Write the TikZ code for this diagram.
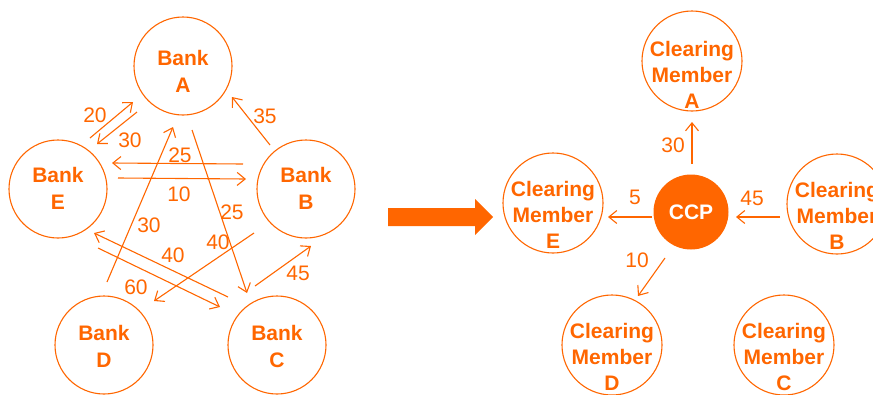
\documentclass[tikz,border=0pt]{standalone}
\usepackage{fontspec}
\setmainfont{Liberation Sans}
\usetikzlibrary{arrows.meta,calc}
\definecolor{org}{RGB}{255,102,0}
\tikzset{
  x=1pt,y=-1pt,
  bank/.style={circle,draw=org,line width=1.1pt,minimum size=98pt,inner sep=0pt},
  member/.style={circle,draw=org,line width=1.1pt,minimum size=100pt,inner sep=0pt},
  txt/.style={text=org,font=\bfseries\fontsize{21}{27}\selectfont,align=center},
  mtxt/.style={text=org,font=\bfseries\fontsize{21}{26}\selectfont,align=center},
  arr/.style={draw=org,line width=1.1pt,-{Straight Barb[length=8pt,width=13pt,line width=1.1pt]}},
  num/.style={text=org,font=\fontsize{21}{25}\selectfont,inner sep=0pt},
}
\begin{document}
\begin{tikzpicture}
\useasboundingbox (0,0) rectangle (873,394);
% left: banks
\node[bank,label={[txt,yshift=-5pt]center:Bank\\A}] (A) at (183,66) {};
\node[bank,label={[txt,yshift=1pt]center:Bank\\E}] (E) at (58,189) {};
\node[bank,label={[txt,yshift=1pt]center:Bank\\B}] (B) at (306,189) {};
\node[bank,label={[txt,yshift=-1pt]center:Bank\\D}] (D) at (104,345) {};
\node[bank,label={[txt,yshift=-1pt]center:Bank\\C}] (C) at (277,345) {};
% left arrows
\draw[arr] ($(E)+(32,-51)$) -- ($(A)+(-50,36)$);
\draw[arr] ($(A)+(-46,46)$) -- ($(E)+(39,-45)$);
\draw[arr] ($(B)+(-36,-44)$) -- ($(A)+(49,31)$);
\draw[arr] ($(B)+(-63,-25)$) -- ($(E)+(54,-26)$);
\draw[arr] ($(E)+(60,-11)$) -- ($(B)+(-60,-10)$);
\draw[arr] ($(A)+(9,64)$) -- ($(C)+(-30,-52)$);
\draw[arr] ($(D)+(3,-63)$) -- ($(A)+(-10,61)$);
\draw[arr] ($(C)+(-49,-48)$) -- ($(E)+(36,44)$);
\draw[arr] ($(E)+(40,59)$) -- ($(C)+(-57,-38)$);
\draw[arr] ($(B)+(-52,44)$) -- ($(D)+(50,-44)$);
\draw[arr] ($(C)+(-22,-59)$) -- ($(B)+(5,57)$);
% left labels
\node[num] (l1) at (95,115) {20};
\node[num] (l2) at (130,140) {30};
\node[num] (l3) at (265,116) {35};
\node[num] (l4) at (180,155) {25};
\node[num] (l5) at (179,194) {10};
\node[num] (l6) at (232,212) {25};
\node[num] (l7) at (149,225) {30};
\node[num] (l8) at (173,255) {40};
\node[num] (l9) at (136,287) {60};
\node[num] (l10) at (218,242) {40};
\node[num] (l11) at (298,273) {45};
% block arrow
\fill[org] (388,208) -- (475,208) -- (475,199) -- (493,217) -- (475,235) -- (475,226) -- (388,226) -- cycle;
% right: members
\node[member,label={[mtxt,yshift=-13.5pt]center:Clearing\\Member\\A}] (MA) at (692,61) {};
\node[member,label={[mtxt,yshift=-12pt]center:Clearing\\Member\\E}] (ME) at (553,203) {};
\node[member,label={[mtxt,yshift=-12pt]center:Clearing\\Member\\B}] (MB) at (837,204) {};
\node[member,label={[mtxt,yshift=-12pt]center:Clearing\\Member\\D}] (MD) at (612,345) {};
\node[member,label={[mtxt,yshift=-12pt]center:Clearing\\Member\\C}] (MC) at (784,345) {};
\node[circle,fill=org,minimum size=75pt,inner sep=0pt,text=white,font=\bfseries\fontsize{21}{25}\selectfont] (CCP) at (691,212) {CCP};
% right arrows
\draw[arr] ($(CCP)+(1,-48)$) -- ($(MA)+(0,61)$);
\draw[arr] ($(CCP)+(-39,5)$) -- ($(ME)+(55,14)$);
\draw[arr] ($(MB)+(-57,13)$) -- ($(CCP)+(45,5)$);
\draw[arr] ($(CCP)+(-26,46)$) -- ($(MD)+(26,-49)$);
% right labels
\node[num] (r1) at (673,145) {30};
\node[num] (r2) at (635,197) {5};
\node[num] (r3) at (752,198) {45};
\node[num] (r4) at (637,260) {10};
\end{tikzpicture}
\end{document}
